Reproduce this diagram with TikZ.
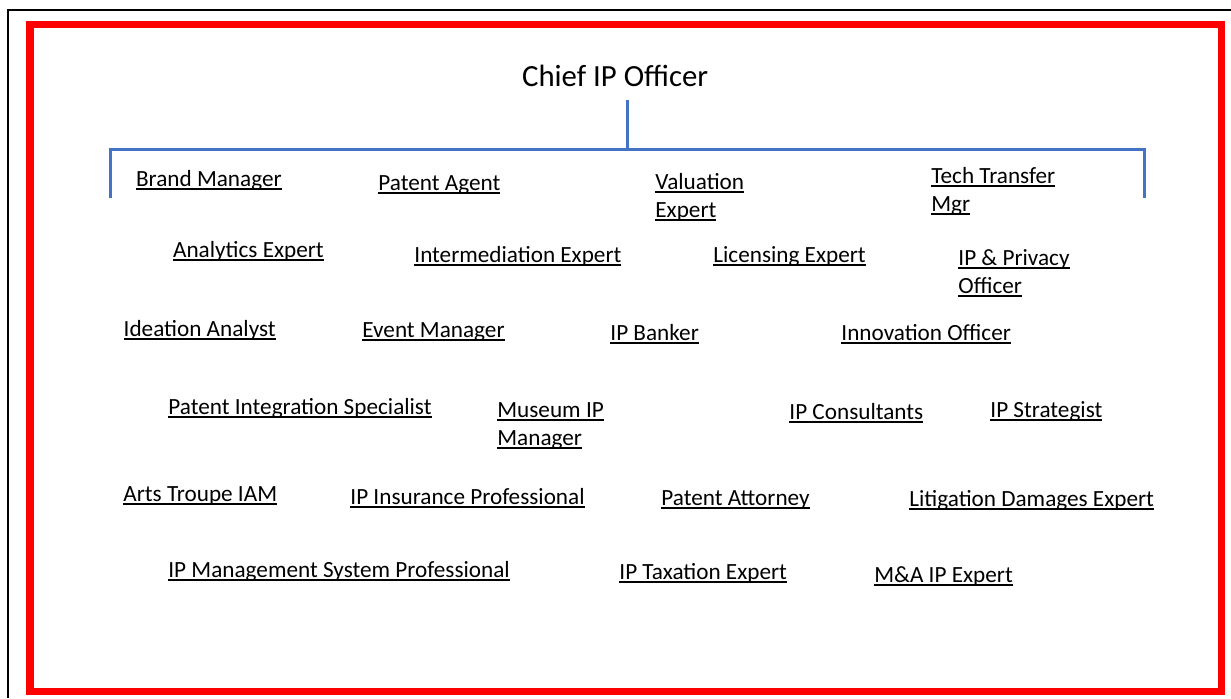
\documentclass[tikz,border=0pt]{standalone}
\usepackage{fontspec}
\setmainfont{Carlito}
\definecolor{linkblue}{HTML}{4472C4}
\newlength\rolewd
\newcommand{\roleul}[1]{\settowidth{\rolewd}{#1}#1\llap{\rule[-1.9pt]{\rolewd}{0.85pt}}}
\newcommand{\rolefont}{\fontsize{11.6}{14}\selectfont}
\tikzset{
  role/.style={anchor=base west, inner sep=0pt, font=\rolefont, align=left},
  bracket/.style={linkblue, line width=1.25pt}
}
\begin{document}
\begin{tikzpicture}[x=0.5pt, y=-0.5pt]
    \useasboundingbox (0,0) rectangle (1231,698);
    % frames
    \draw[line width=1.3pt] (8,698) -- (8,10) -- (1231,10);
    \draw[red, line width=3.8pt] (29.8,24.6) rectangle (1221.5,691.5);

    \node[anchor=base west, inner sep=0pt, font=\fontsize{15.4}{18}\selectfont] (chief) at (521.7,86) {Chief IP Officer};

    \coordinate (top) at (627.3,100);
    \coordinate (hub) at (627.3,149.5);
    \coordinate (lftend) at (110.3,198);
    \coordinate (rgtend) at (1144.3,198);
    \draw[bracket] (top) -- (hub);
    \draw[bracket] (lftend) |- (hub) -| (rgtend);

    % row 1
    \node[role] (brand) at (135.7,186.3) {\roleul{Brand Manager}};
    \node[role] (agent) at (378,190) {\roleul{Patent Agent}};
    \node[role] (valuation) at (655,217) {\roleul{Valuation}\\\roleul{Expert}};
    \node[role] (techtransfer) at (931,211) {\roleul{Tech Transfer}\\\roleul{Mgr}};
    % row 2
    \node[role] (analytics) at (172.7,257.3) {\roleul{Analytics Expert}};
    \node[role] (intermediation) at (414,262) {\roleul{Intermediation Expert}};
    \node[role] (licensing) at (713,262) {\roleul{Licensing Expert}};
    \node[role] (privacy) at (958,293) {\roleul{IP \& Privacy}\\\roleul{Officer}};
    % row 3
    \node[role] (ideation) at (123.3,336) {\roleul{Ideation Analyst}};
    \node[role] (event) at (362,337) {\roleul{Event Manager}};
    \node[role] (banker) at (610,340) {\roleul{IP Banker}};
    \node[role] (innovation) at (841,340) {\roleul{Innovation Officer}};
    % row 4
    \node[role] (integration) at (168,414) {\roleul{Patent Integration Specialist}};
    \node[role] (museum) at (497,445) {\roleul{Museum IP}\\\roleul{Manager}};
    \node[role] (consultants) at (789,419) {\roleul{IP Consultants}};
    \node[role] (strategist) at (990,417) {\roleul{IP Strategist}};
    % row 5
    \node[role] (arts) at (123,501) {\roleul{Arts Troupe IAM}};
    \node[role] (insurance) at (350,504) {\roleul{IP Insurance Professional}};
    \node[role] (attorney) at (661,505) {\roleul{Patent Attorney}};
    \node[role] (litigation) at (909,506) {\roleul{Litigation Damages Expert}};
    % row 6
    \node[role] (management) at (168,577) {\roleul{IP Management System Professional}};
    \node[role] (taxation) at (619,579) {\roleul{IP Taxation Expert}};
    \node[role] (mna) at (874,582) {\roleul{M\&A IP Expert}};
\end{tikzpicture}
\end{document}
